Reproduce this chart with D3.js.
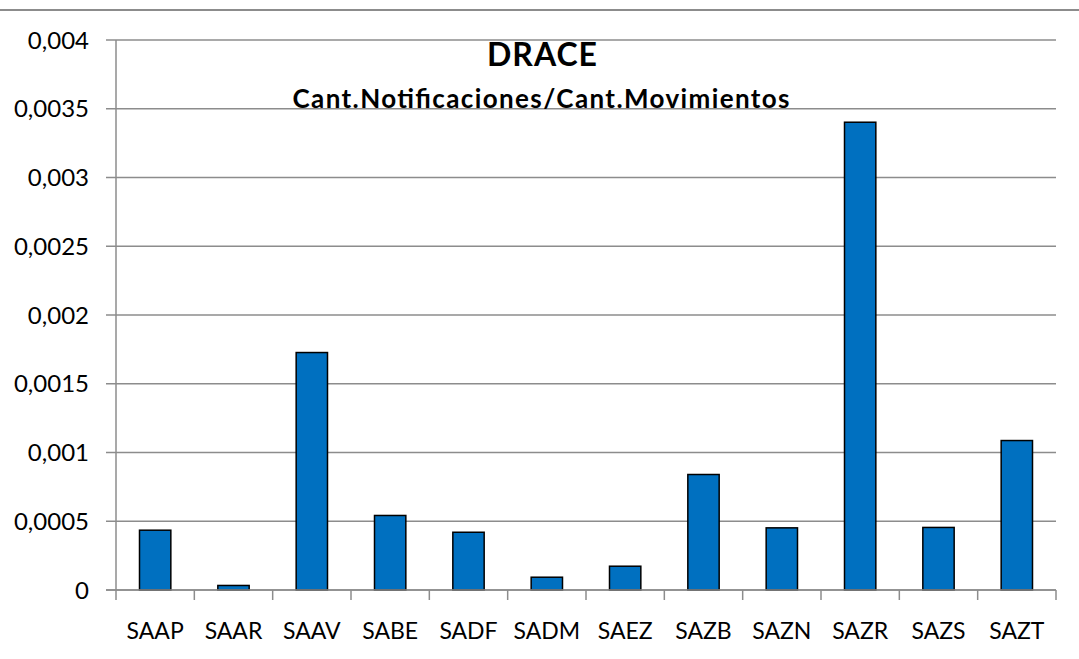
<!DOCTYPE html>
<html>
<head>
<meta charset="utf-8">
<script src="https://cdn.jsdelivr.net/npm/d3@7"></script>
<style>
  body { margin: 0; background: #fff; }
  svg { display: block; font-family: Lato, "Open Sans", sans-serif; }
</style>
</head>
<body>
<svg id="chart" width="1079" height="659"></svg>
<script>
// data
let categories = ["SAAP", "SAAR", "SAAV", "SABE", "SADF", "SADM", "SAEZ", "SAZB", "SAZN", "SAZR", "SAZS", "SAZT"]
let ratios = [0.000435, 0.000033, 0.001727, 0.000542, 0.00042, 0.000093, 0.000173, 0.00084, 0.000452, 0.003402, 0.000455, 0.001087]
let yTicks = [0, 0.0005, 0.001, 0.0015, 0.002, 0.0025, 0.003, 0.0035, 0.004]
let title = "DRACE"
let subtitle = "Cant.Notificaciones/Cant.Movimientos"

// plot area
let plotLeft = 116
let plotRight = 1056
let plotTop = 40
let plotBottom = 590

let gray = "#8c8c8c"

let svg = d3.select("#chart")

// border line at the top of the chart area
svg.append("line")
    .attr("x1", 0).attr("x2", 1079)
    .attr("y1", 10).attr("y2", 10)
    .attr("stroke", gray)
    .attr("stroke-width", 2)

let xscale = d3.scaleBand().domain(categories).range([plotLeft, plotRight]).padding(0)
let yscale = d3.scaleLinear().domain([0, 0.004]).range([plotBottom, plotTop])

let esLocale = d3.formatLocale({decimal: ",", thousands: ".", grouping: [3], currency: ["", ""]})
let fmt = esLocale.format("~g")

// horizontal gridlines
svg.append("g")
    .selectAll("line")
    .data(yTicks)
    .enter()
    .append("line")
    .attr("x1", plotLeft - 10)
    .attr("x2", plotRight)
    .attr("y1", d => yscale(d))
    .attr("y2", d => yscale(d))
    .attr("stroke", gray)
    .attr("stroke-width", 1.5)

// y axis line
svg.append("line")
    .attr("x1", plotLeft).attr("x2", plotLeft)
    .attr("y1", plotTop).attr("y2", plotBottom)
    .attr("stroke", gray)
    .attr("stroke-width", 1.5)

// y tick labels
svg.append("g")
    .selectAll("text")
    .data(yTicks)
    .enter()
    .append("text")
    .attr("x", 89)
    .attr("y", d => yscale(d))
    .attr("dy", "0.36em")
    .attr("text-anchor", "end")
    .style("font-size", "24px")
    .attr("fill", "#000")
    .text(d => fmt(d))

// x axis ticks at category boundaries
let boundaries = categories.map(c => xscale(c)).concat([plotRight])
svg.append("g")
    .selectAll("line")
    .data(boundaries)
    .enter()
    .append("line")
    .attr("x1", d => d)
    .attr("x2", d => d)
    .attr("y1", plotBottom)
    .attr("y2", plotBottom + 10)
    .attr("stroke", gray)
    .attr("stroke-width", 1.5)

// bars
let barWidth = xscale.bandwidth() * 0.4
svg.append("g")
    .selectAll("rect")
    .data(categories)
    .enter()
    .append("rect")
    .attr("x", (d) => xscale(d) + (xscale.bandwidth() - barWidth) / 2)
    .attr("y", (d, i) => yscale(ratios[i]))
    .attr("width", barWidth)
    .attr("height", (d, i) => plotBottom - yscale(ratios[i]))
    .attr("fill", "#0070c0")
    .attr("stroke", "#000")
    .attr("stroke-width", 1.5)

// x axis line on top of bar bottoms
svg.append("line")
    .attr("x1", plotLeft - 10).attr("x2", plotRight)
    .attr("y1", plotBottom).attr("y2", plotBottom)
    .attr("stroke", gray)
    .attr("stroke-width", 1.5)

// category labels
svg.append("g")
    .selectAll("text")
    .data(categories)
    .enter()
    .append("text")
    .attr("x", d => xscale(d) + xscale.bandwidth() / 2)
    .attr("y", 639)
    .attr("text-anchor", "middle")
    .style("font-size", "23px")
    .attr("fill", "#000")
    .text(d => d)

// titles
svg.append("text")
    .attr("x", 542)
    .attr("y", 66)
    .attr("text-anchor", "middle")
    .style("font-size", "32px")
    .style("font-weight", "bold")
    .attr("textLength", 110)
    .attr("lengthAdjust", "spacing")
    .text(title)

svg.append("text")
    .attr("x", 541)
    .attr("y", 108)
    .attr("text-anchor", "middle")
    .style("font-size", "26px")
    .style("font-weight", "bold")
    .attr("textLength", 497)
    .attr("lengthAdjust", "spacing")
    .text(subtitle)
</script>
</body>
</html>
